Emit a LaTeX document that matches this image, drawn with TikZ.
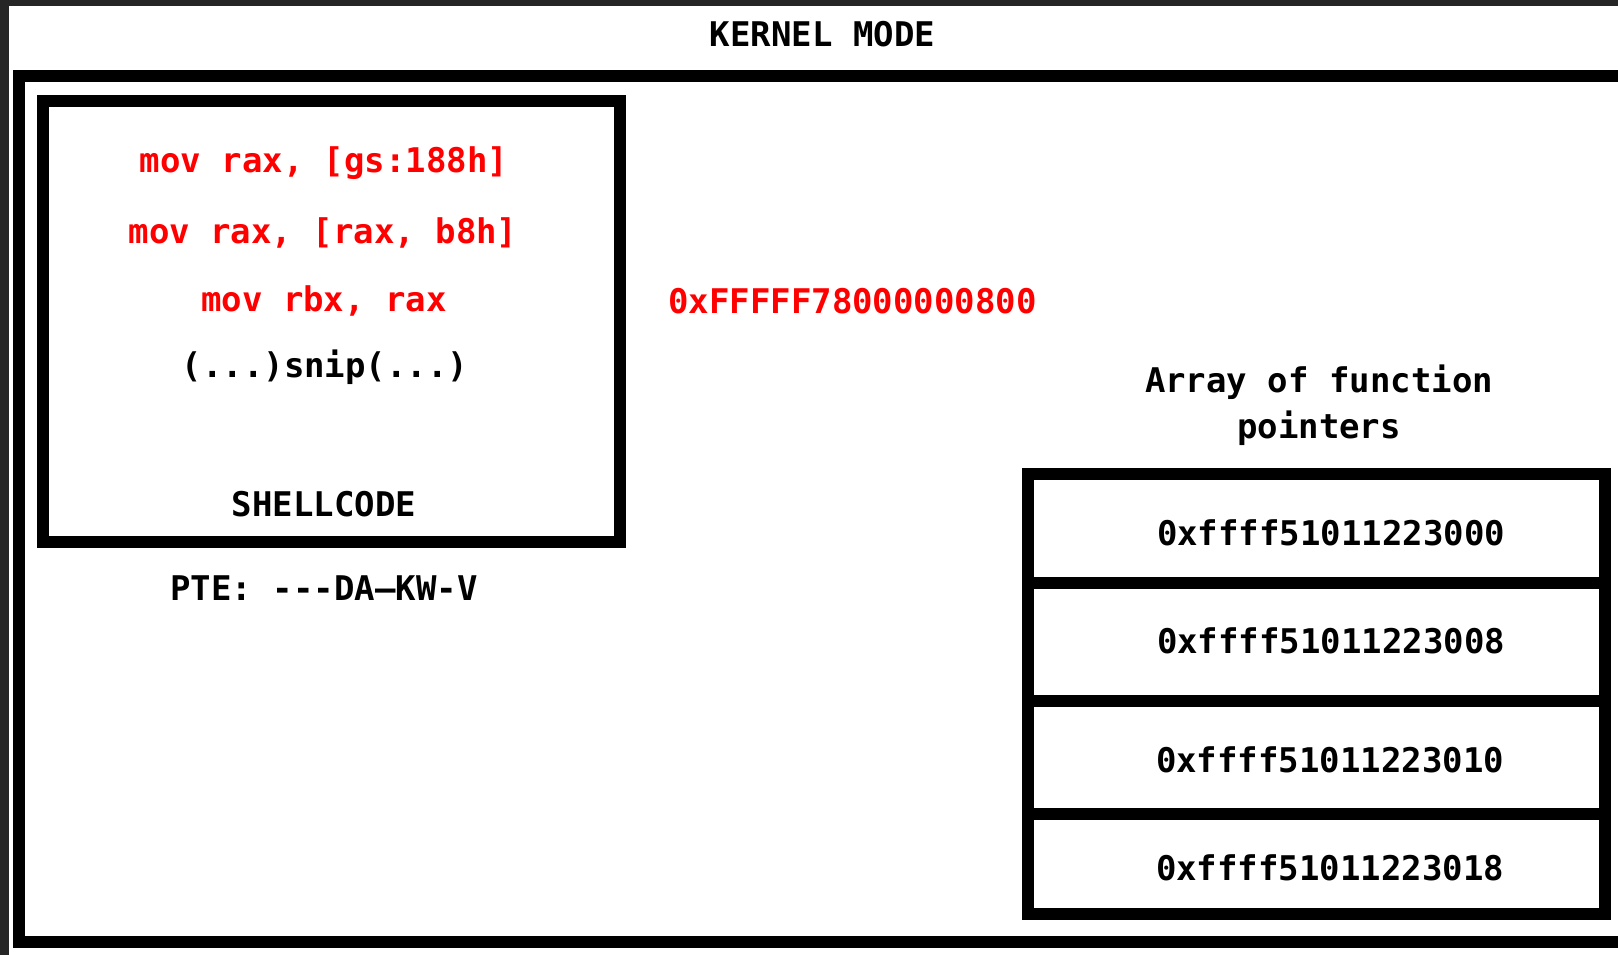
\documentclass[tikz,border=0pt]{standalone}
\usepackage{xcolor}
\usepackage{fontspec}
\setmonofont{DejaVu Sans Mono}
\usepackage{tikz}

\definecolor{edge}{HTML}{262626}

\tikzset{
	code/.style={font=\fontsize{34}{40}\selectfont\ttfamily\bfseries, inner sep=0pt, anchor=base},
	hot/.style={code, text=red},
	box/.style={draw, line width=12pt, inner sep=0pt},
	slot/.style={box, minimum width=576.5pt},
}

\begin{document}
\begin{tikzpicture}[x=1pt,y=-1pt]
		\useasboundingbox (0,0) rectangle (1618,955);
		\clip (0,0) rectangle (1618,955);
		\fill[edge] (0,0) rectangle (1618,6);
		\fill[edge] (0,0) rectangle (9,955);
		% kernel space frame, open to the right
		\draw[line width=12pt] (19,76) rectangle (1660,941.5);
		\node[code] (mode) at (822.5,46.4) {KERNEL MODE};
		% shellcode page
		\node[box, minimum width=576.5pt, minimum height=440.5pt] (shell) at (331.25,321.75) {};
		\node[hot] (ins1) at (324,173) {mov rax, [gs:188h]};
		\node[hot] (ins2) at (323,243.5) {mov rax, [rax, b8h]};
		\node[hot] (ins3) at (324,311.6) {mov rbx, rax};
		\node[code] (snip) at (325,377.7) {(...)snip(...)};
		\node[code] (tag) at (324,516) {SHELLCODE};
		\node[code] (pte) at (324,600.5) {PTE: ---DA—KW-V};
		\node[hot] (kuser) at (852.5,313.7) {0xFFFFF78000000800};
		% function pointer table
		\node[code] (arr1) at (1319,392) {Array of function};
		\node[code] (arr2) at (1319,438.6) {pointers};
		\node[slot, minimum height=108.5pt] (slot0) at (1316.25,528.25) {};
		\node[slot, minimum height=118.5pt] (slot1) at (1316.25,641.75) {};
		\node[slot, minimum height=113pt] (slot2) at (1316.25,757.5) {};
		\node[slot, minimum height=100pt] (slot3) at (1316.25,864) {};
		\node[code] (fp0) at (1331,545) {0xffff51011223000};
		\node[code] (fp1) at (1331,653) {0xffff51011223008};
		\node[code] (fp2) at (1330,772) {0xffff51011223010};
		\node[code] (fp3) at (1330,880) {0xffff51011223018};
	\end{tikzpicture}
\end{document}
